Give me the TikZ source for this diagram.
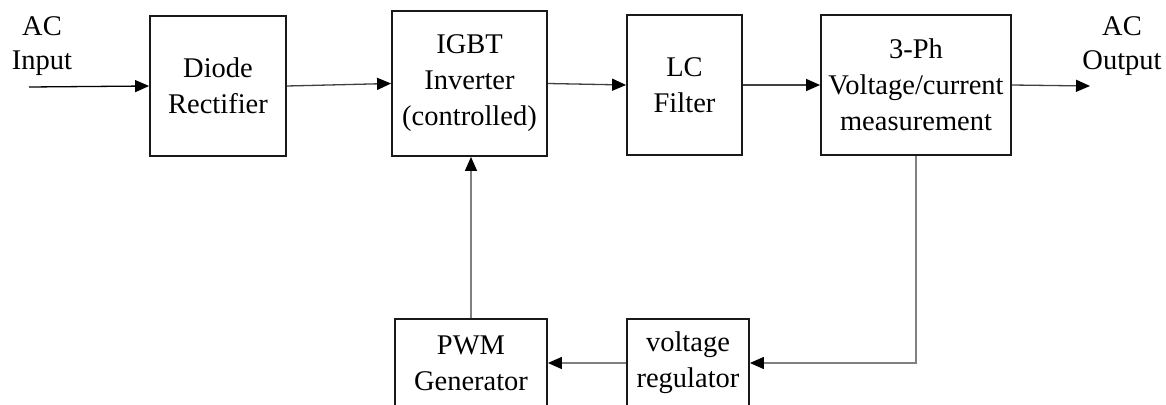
\documentclass[tikz,border=0pt]{standalone}
\usepackage{fontspec}
\setmainfont{Liberation Serif}
\usetikzlibrary{arrows.meta}
\begin{document}
\begin{tikzpicture}[x=1pt,y=-1pt,
  blk/.style={draw=black!90, line width=1.8pt, align=center, inner sep=0pt,
    font=\fontsize{28.5}{36}\selectfont},
  lbl/.style={align=center, inner sep=0pt, font=\fontsize{28.5}{34}\selectfont},
  tip/.style={-{Triangle[length=14pt,width=12pt,color=black,fill=black]}},
  conn/.style={draw=black!75, line width=1.3pt, tip},
  fb/.style={draw=black!50, line width=1.3pt, tip}]
\useasboundingbox (0,0) rectangle (1166,404);
\clip (0,0) rectangle (1166,404);
\fill[white] (0,0) rectangle (1166,404);

\node[blk, minimum width=136pt, minimum height=140pt] (diode) at (218,86) {Diode\\Rectifier};
\node[blk, minimum width=155pt, minimum height=145pt] (igbt) at (469.5,83.5) {IGBT\\Inverter\\(controlled)};
\node[blk, minimum width=115pt, minimum height=140pt] (lc) at (684.5,85) {LC\\Filter};
\node[blk, minimum width=190pt, minimum height=140pt] (meas) at (916,85) {3-Ph\\Voltage/current\\measurement};
\node[blk, minimum width=152pt, minimum height=88pt] (pwm) at (471,363) {PWM\\Generator};
\node[blk, minimum width=122pt, minimum height=88pt] (reg) at (688,363) {voltage\\regulator};

\node[lbl] (acin) at (42,46) {AC\\Input};
\node[lbl] (acout) at (1122,46) {AC\\Output};

\coordinate (inp) at (29,87);
\coordinate (outp) at (1090,86);

\draw[conn, draw=black] (inp) -- (diode.west);
\draw[conn] (diode.east) -- (igbt.west);
\draw[conn] (igbt.east) -- (lc.west);
\draw[conn] (lc.east) -- (meas.west);
\draw[conn] (meas.east) -- (outp);
\draw[fb] (pwm.north) -- (pwm.north |- igbt.south);
\draw[fb] (meas.south) |- (reg.east);
\draw[fb] (reg.west) -- (pwm.east);
\end{tikzpicture}
\end{document}
